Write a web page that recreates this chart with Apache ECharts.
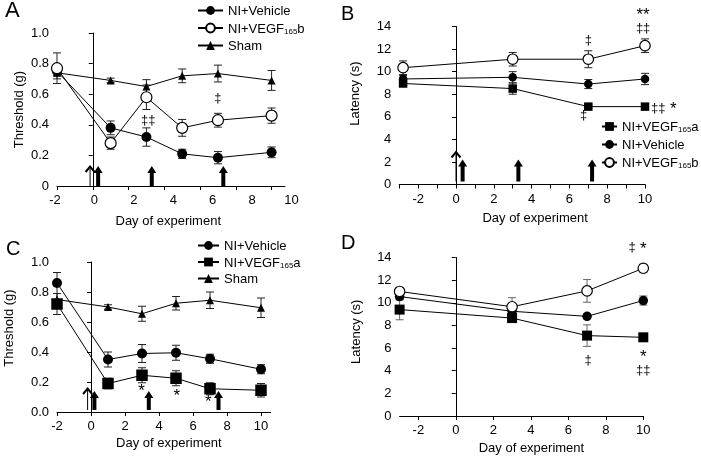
<!DOCTYPE html>
<html><head><meta charset="utf-8">
<script src="https://cdn.jsdelivr.net/npm/echarts@6/dist/echarts.min.js"></script>
<style>html,body{margin:0;padding:0;background:#fff}#c{width:701px;height:463px}</style>
</head><body><div id="c"></div>
<script>
// ---------------- DATA ----------------
// Panel A (threshold, g)
const daysA = [-2, 1, 3, 5, 7, 10];
const A_vehicle = [0.75, 0.38, 0.32, 0.21, 0.185, 0.22];
const A_vehicleErr = [0.03, 0.045, 0.06, 0.03, 0.04, 0.035];
const A_vegf165b = [0.77, 0.28, 0.58, 0.38, 0.43, 0.46];
const A_vegf165bErr = [0.10, 0.04, 0.08, 0.055, 0.045, 0.05];
const A_sham = [0.74, 0.69, 0.65, 0.72, 0.735, 0.69];
const A_shamErr = [0.04, 0.015, 0.045, 0.045, 0.055, 0.065];
const A_arrowDays = [-0.15, 0.3, 3.3, 7.3];
const A_arrowThick = [0, 1, 1, 1];
const A_annX = [3.1, 7.0];
const A_annY = [0.43, 0.575];
const A_annT = ['‡‡', '‡'];

// Panel B (latency, s)
const daysB = [-2.8, 3, 7, 10];
const B_vegf165a = [8.95, 8.5, 6.9, 6.9];
const B_vegf165aErr = [0.2, 0.5, 0.15, 0.15];
const B_vehicle = [9.35, 9.5, 8.9, 9.35];
const B_vehicleErr = [0.3, 0.5, 0.4, 0.5];
const B_vegf165b = [10.35, 11.1, 11.1, 12.3];
const B_vegf165bErr = [0.6, 0.6, 0.75, 0.6];
const B_arrowDays = [0, 0.35, 3.3, 7.2];
const B_arrowThick = [0, 1, 1, 1];
const B_annX = [7.0, 6.75, 9.9, 9.9, 10.7, 11.5];
const B_annY = [12.8, 6.1, 15.0, 13.8, 6.75, 6.7];
const B_annT = ['‡', '‡', '**', '‡‡', '‡‡', '*'];

// Panel C (threshold, g)
const daysC = [-2, 1, 3, 5, 7, 10];
const C_vehicle = [0.86, 0.35, 0.39, 0.395, 0.355, 0.285];
const C_vehicleErr = [0.07, 0.05, 0.06, 0.05, 0.03, 0.03];
const C_vegf165a = [0.72, 0.19, 0.245, 0.225, 0.155, 0.145];
const C_vegf165aErr = [0.07, 0.035, 0.05, 0.05, 0.04, 0.045];
const C_sham = [0.75, 0.7, 0.655, 0.725, 0.745, 0.695];
const C_shamErr = [0.04, 0.015, 0.05, 0.045, 0.055, 0.065];
const C_arrowDays = [-0.2, 0.2, 3.4, 7.5];
const C_arrowThick = [0, 1, 1, 1];
const C_annX = [2.98, 5.04, 6.9];
const C_annY = [0.14, 0.105, 0.062];
const C_annT = ['*', '*', '*'];

// Panel D (latency, s)
const daysD = [-3, 3, 7, 10];
const D_vegf165b = [11.0, 9.65, 11.05, 13.05];
const D_vegf165bErr = [0.3, 0.8, 1.0, 0.35];
const D_vehicle = [10.55, 9.25, 8.8, 10.2];
const D_vehicleErr = [0.3, 0.4, 0.2, 0.4];
const D_vegf165a = [9.4, 8.65, 7.1, 6.95];
const D_vegf165aErr = [0.9, 0.3, 0.95, 0.15];
const D_annX = [9.4, 10.0, 7.05, 10.0, 10.0];
const D_annY = [14.85, 14.7, 4.95, 5.2, 4.05];
const D_annT = ['‡', '*', '‡', '*', '‡‡'];

// Tick labels
const tickDaysEven = [-2, 0, 2, 4, 6, 8, 10];

// ---------------- STYLES ----------------
const FONT = 'Liberation Sans';
const SYM = {
  'NI+Vehicle': {symbol: 'circle', size: 10, item: {color: '#000'}},
  'NI+VEGF165b': {symbol: 'circle', size: 11, item: {color: '#fff', borderColor: '#000', borderWidth: 1.2}},
  'NI+VEGF165a': {symbol: 'rect', size: 10, item: {color: '#000'}},
  'Sham': {symbol: 'triangle', size: 8, item: {color: '#000'}}
};

function lineSeries(name, ai, days, vals, sizeScale) {
  const s = SYM[name];
  return {
    type: 'line', name, xAxisIndex: ai, yAxisIndex: ai,
    data: days.map((d, i) => [d, vals[i]]),
    symbol: s.symbol, symbolSize: s.size * (sizeScale || 1), showSymbol: true,
    itemStyle: s.item, lineStyle: {color: '#000', width: 1},
    z: 4, animation: false, silent: true
  };
}
function errSeries(ai, days, vals, errs, color) {
  return {
    type: 'custom', xAxisIndex: ai, yAxisIndex: ai, z: 2, silent: true, animation: false,
    data: days.map((d, i) => [d, vals[i] - errs[i], vals[i] + errs[i]]),
    encode: {x: 0, y: [1, 2]},
    renderItem: function (params, api) {
      const x = api.value(0);
      const p1 = api.coord([x, api.value(1)]), p2 = api.coord([x, api.value(2)]);
      const w = 4, st = {stroke: color || '#222', lineWidth: 1};
      return {type: 'group', children: [
        {type: 'line', shape: {x1: p1[0], y1: p1[1], x2: p2[0], y2: p2[1]}, style: st},
        {type: 'line', shape: {x1: p1[0] - w, y1: p1[1], x2: p1[0] + w, y2: p1[1]}, style: st},
        {type: 'line', shape: {x1: p2[0] - w, y1: p2[1], x2: p2[0] + w, y2: p2[1]}, style: st}
      ]};
    }
  };
}
function arrowSeries(ai, days, thick, base, thinLen, thickLen) {
  return {
    type: 'custom', xAxisIndex: ai, yAxisIndex: ai, z: 5, silent: true, animation: false, clip: false,
    data: days.map((d, i) => [d, thick[i]]),
    encode: {x: 0},
    renderItem: function (params, api) {
      const p = api.coord([api.value(0), 0]);
      const x = p[0], yb = p[1] - base;
      if (api.value(1)) {
        const yt = yb - thickLen;
        return {type: 'group', children: [
          {type: 'rect', shape: {x: x - 2, y: yt + 6, width: 4, height: thickLen - 6}, style: {fill: '#000'}},
          {type: 'polygon', shape: {points: [[x - 4.5, yt + 7], [x, yt], [x + 4.5, yt + 7]]}, style: {fill: '#000'}}
        ]};
      } else {
        const yt = yb - thinLen;
        return {type: 'group', children: [
          {type: 'line', shape: {x1: x, y1: yb, x2: x, y2: yt}, style: {stroke: '#000', lineWidth: 1}},
          {type: 'polyline', shape: {points: [[x - 4.5, yt + 6], [x, yt + 0.5], [x + 4.5, yt + 6]]}, style: {stroke: '#000', lineWidth: 2, fill: null}}
        ]};
      }
    }
  };
}
function annSeries(ai, xs, ys, texts) {
  return {
    type: 'custom', xAxisIndex: ai, yAxisIndex: ai, z: 6, silent: true, animation: false, clip: false,
    data: xs.map((x, i) => [x, ys[i]]),
    encode: {x: 0, y: 1},
    renderItem: function (params, api) {
      const p = api.coord([api.value(0), api.value(1)]);
      const t = texts[params.dataIndex];
      const star = t.indexOf('*') >= 0;
      return {type: 'text', x: p[0], y: p[1], z2: 10, style: {
        text: t, fill: '#000', align: 'center', verticalAlign: 'middle',
        font: (star ? '17px ' : '13px ') + FONT
      }};
    }
  };
}

const rich = {
  n: {fontSize: 13, fontFamily: FONT, color: '#000', lineHeight: 15, verticalAlign: 'bottom'},
  s: {fontSize: 8, fontFamily: FONT, color: '#000', lineHeight: 8, verticalAlign: 'bottom'}
};
function legendFmt(name) {
  const m = name.match(/^(.*)165([ab])$/);
  if (m) return '{n|' + m[1] + '}{s|165}{n|' + m[2] + '}';
  return '{n|' + name + '}';
}
function legend(names, left, top, itemWidth, gap) {
  return {
    data: names, left, top, orient: 'vertical', itemWidth, itemHeight: 11, itemGap: gap,
    selectedMode: false, formatter: legendFmt, padding: 0,
    textStyle: {fontSize: 13, fontFamily: FONT, color: '#000', rich}
  };
}

const axLine = {show: true, lineStyle: {color: '#000', width: 1}};
const axTick = {show: true, length: 4, lineStyle: {color: '#000', width: 1}};
const lbl = {fontSize: 13, fontFamily: FONT, color: '#000', margin: 8};
const nameStyle = {fontSize: 13, fontFamily: FONT, color: '#000'};

const option = {
  animation: false,
  backgroundColor: '#fff',
  textStyle: {fontFamily: FONT},
  grid: [
    {left: 57, top: 33, width: 228, height: 153, outerBoundsMode: 'none'},
    {left: 55, top: 33, width: 236.5, height: 153, outerBoundsMode: 'none'},
    {left: 399.3, top: 26.5, width: 245.7, height: 158, outerBoundsMode: 'none'},
    {left: 57, top: 262, width: 213.7, height: 150, outerBoundsMode: 'none'},
    {left: 399.6, top: 257.5, width: 243.7, height: 158.5, outerBoundsMode: 'none'}
  ],
  xAxis: [
    {gridIndex: 0, type: 'value', min: -2, max: 10.75, axisLine: axLine,
     axisTick: Object.assign({customValues: tickDaysEven}, axTick),
     axisLabel: {show: false}, splitLine: {show: false}},
    {gridIndex: 1, type: 'value', min: -2, max: 10, interval: 2, axisLine: {show: false}, axisTick: {show: false},
     axisLabel: Object.assign({customValues: tickDaysEven}, lbl), splitLine: {show: false},
     name: 'Day of experiment', nameLocation: 'middle', nameGap: 29, nameTextStyle: Object.assign({padding: [0, 10, 0, 0]}, nameStyle)},
    {gridIndex: 2, type: 'value', min: -3, max: 10, interval: 1, axisLine: axLine, axisTick: axTick,
     axisLabel: Object.assign({formatter: v => (v % 2 === 0 ? String(v) : '')}, lbl), splitLine: {show: false},
     name: 'Day of experiment', nameLocation: 'middle', nameGap: 27, nameTextStyle: Object.assign({padding: [0, 0, 0, 26]}, nameStyle)},
    {gridIndex: 3, type: 'value', min: -2, max: 10.57, axisLine: axLine,
     axisTick: Object.assign({customValues: tickDaysEven}, axTick),
     axisLabel: Object.assign({customValues: tickDaysEven}, lbl), splitLine: {show: false},
     name: 'Day of experiment', nameLocation: 'middle', nameGap: 25, nameTextStyle: Object.assign({padding: [0, 0, 0, 10]}, nameStyle)},
    {gridIndex: 4, type: 'value', min: -3, max: 10, axisLine: axLine,
     axisTick: Object.assign({customValues: tickDaysEven}, axTick),
     axisLabel: Object.assign({customValues: tickDaysEven}, lbl), splitLine: {show: false},
     name: 'Day of experiment', nameLocation: 'middle', nameGap: 26, nameTextStyle: Object.assign({padding: [0, 0, 0, 20]}, nameStyle)}
  ],
  yAxis: [
    {gridIndex: 0, type: 'value', min: 0, max: 1, interval: 0.2, axisLine: axLine, axisTick: axTick,
     axisLabel: Object.assign({formatter: v => (v === 0 ? '0' : v.toFixed(1))}, lbl), splitLine: {show: false},
     name: 'Threshold (g)', nameLocation: 'middle', nameGap: 31, nameTextStyle: nameStyle},
    {gridIndex: 1, type: 'value', min: 0, max: 1, show: false},
    {gridIndex: 2, type: 'value', min: 0, max: 14, interval: 2, axisLine: axLine, axisTick: axTick,
     axisLabel: lbl, splitLine: {show: false},
     name: 'Latency (s)', nameLocation: 'middle', nameGap: 37, nameTextStyle: Object.assign({padding: [0, 0, 0, 24]}, nameStyle)},
    {gridIndex: 3, type: 'value', min: 0, max: 1, interval: 0.2, axisLine: axLine, axisTick: axTick,
     axisLabel: Object.assign({formatter: v => v.toFixed(1)}, lbl), splitLine: {show: false},
     name: 'Threshold (g)', nameLocation: 'middle', nameGap: 41, nameTextStyle: Object.assign({padding: [0, 0, 0, 18]}, nameStyle)},
    {gridIndex: 4, type: 'value', min: 0, max: 14, interval: 2, axisLine: axLine, axisTick: axTick,
     axisLabel: lbl, splitLine: {show: false},
     name: 'Latency (s)', nameLocation: 'middle', nameGap: 37, nameTextStyle: Object.assign({padding: [0, 0, 0, 10]}, nameStyle)}
  ],
  legend: [
    legend(['NI+Vehicle', 'NI+VEGF165b', 'Sham'], 197, 5, 25, 4.5),
    legend(['NI+VEGF165a', 'NI+Vehicle', 'NI+VEGF165b'], 601, 121, 15, 5),
    legend(['NI+Vehicle', 'NI+VEGF165a', 'Sham'], 197, 240, 21, 3.5)
  ],
  graphic: [
    {type: 'text', left: 5, top: 0, style: {text: 'A', font: '22px ' + FONT, fill: '#000'}},
    {type: 'text', left: 341, top: 4, style: {text: 'B', font: '20px ' + FONT, fill: '#000'}},
    {type: 'text', left: 6, top: 239, style: {text: 'C', font: '20px ' + FONT, fill: '#000'}},
    {type: 'text', left: 341, top: 233, style: {text: 'D', font: '20px ' + FONT, fill: '#000'}}
  ],
  series: [
    // A
    errSeries(0, daysA, A_vehicle, A_vehicleErr),
    errSeries(0, daysA, A_vegf165b, A_vegf165bErr),
    errSeries(0, daysA, A_sham, A_shamErr),
    lineSeries('Sham', 0, daysA, A_sham),
    lineSeries('NI+Vehicle', 0, daysA, A_vehicle),
    lineSeries('NI+VEGF165b', 0, daysA, A_vegf165b),
    arrowSeries(0, A_arrowDays, A_arrowThick, 0, 20, 20),
    annSeries(0, A_annX, A_annY, A_annT),
    // B
    errSeries(2, daysB, B_vegf165a, B_vegf165aErr),
    errSeries(2, daysB, B_vehicle, B_vehicleErr),
    errSeries(2, daysB, B_vegf165b, B_vegf165bErr),
    lineSeries('NI+VEGF165a', 2, daysB, B_vegf165a, 0.85),
    lineSeries('NI+Vehicle', 2, daysB, B_vehicle, 0.85),
    lineSeries('NI+VEGF165b', 2, daysB, B_vegf165b, 0.95),
    arrowSeries(2, B_arrowDays, B_arrowThick, 3, 30, 22),
    annSeries(2, B_annX, B_annY, B_annT),
    // C
    errSeries(3, daysC, C_vehicle, C_vehicleErr),
    errSeries(3, daysC, C_vegf165a, C_vegf165aErr),
    errSeries(3, daysC, C_sham, C_shamErr),
    lineSeries('Sham', 3, daysC, C_sham),
    lineSeries('NI+Vehicle', 3, daysC, C_vehicle),
    lineSeries('NI+VEGF165a', 3, daysC, C_vegf165a, 1.15),
    arrowSeries(3, C_arrowDays, C_arrowThick, 2, 22, 19),
    annSeries(3, C_annX, C_annY, C_annT),
    // D
    errSeries(4, daysD, D_vegf165b, D_vegf165bErr, '#666'),
    errSeries(4, daysD, D_vehicle, D_vehicleErr, '#666'),
    errSeries(4, daysD, D_vegf165a, D_vegf165aErr, '#666'),
    lineSeries('NI+VEGF165a', 4, daysD, D_vegf165a),
    lineSeries('NI+Vehicle', 4, daysD, D_vehicle, 0.95),
    lineSeries('NI+VEGF165b', 4, daysD, D_vegf165b, 0.95),
    annSeries(4, D_annX, D_annY, D_annT)
  ]
};
const chart = echarts.init(document.getElementById('c'), null, {renderer: 'canvas'});
chart.setOption(option);
</script></body></html>
